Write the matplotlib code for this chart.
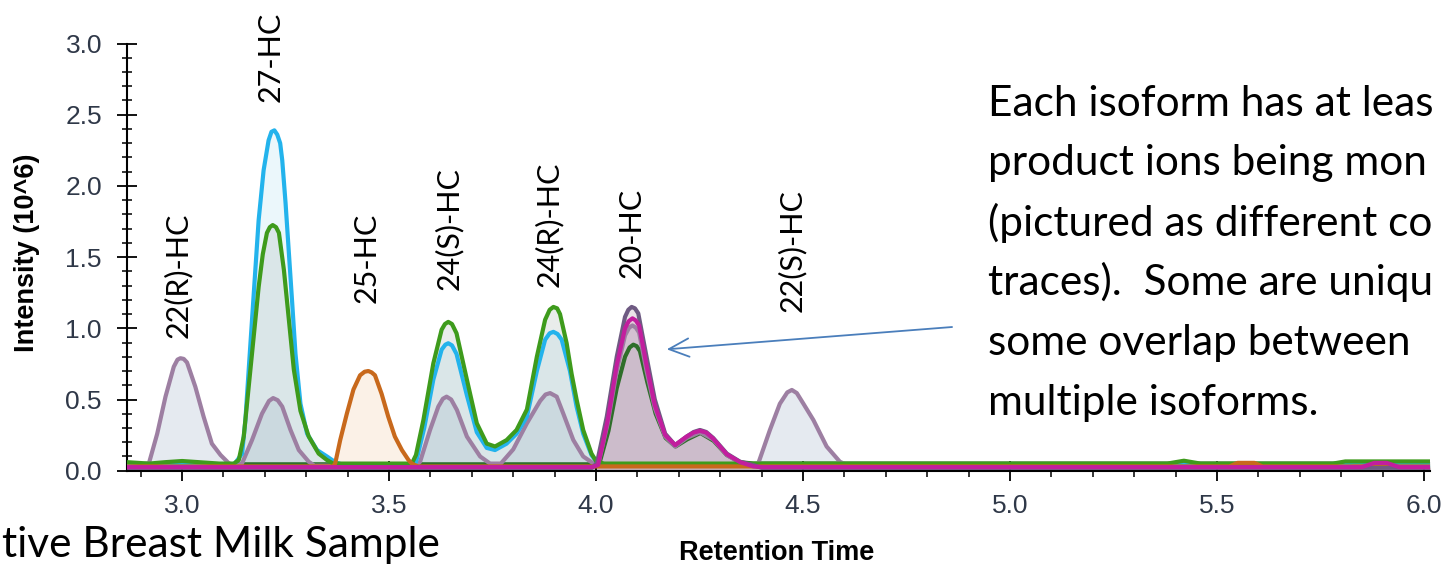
import matplotlib
matplotlib.use("Agg")
import matplotlib.pyplot as plt
from matplotlib.ticker import MultipleLocator

plt.rcParams["font.family"] = ["Liberation Sans", "DejaVu Sans"]

# (retention time [min], intensity [x10^6]) for each monitored transition
mauve_trace = [
    (2.867, 0.035), (2.920, 0.052), (2.940, 0.26), (2.960, 0.52), (2.980, 0.73),
    (2.989, 0.78), (2.996, 0.79), (3.004, 0.785), (3.012, 0.76), (3.032, 0.59),
    (3.052, 0.38), (3.072, 0.19), (3.093, 0.11), (3.113, 0.052), (3.130, 0.035),
    (3.145, 0.052), (3.169, 0.215), (3.193, 0.40), (3.210, 0.49), (3.220, 0.51),
    (3.231, 0.495), (3.242, 0.45), (3.262, 0.286), (3.282, 0.145), (3.306, 0.063),
    (3.320, 0.035), (3.565, 0.035), (3.575, 0.063), (3.599, 0.286), (3.619, 0.45),
    (3.630, 0.505), (3.639, 0.52), (3.650, 0.50), (3.664, 0.426), (3.688, 0.24),
    (3.720, 0.10), (3.744, 0.05), (3.770, 0.05), (3.800, 0.15), (3.833, 0.333),
    (3.865, 0.49), (3.878, 0.535), (3.889, 0.545), (3.905, 0.52), (3.921, 0.40),
    (3.945, 0.216), (3.969, 0.10), (3.993, 0.052), (4.005, 0.04), (4.028, 0.33),
    (4.050, 0.70), (4.070, 0.95), (4.080, 1.005), (4.088, 1.02), (4.096, 1.005),
    (4.104, 0.97), (4.122, 0.70), (4.142, 0.44), (4.167, 0.24), (4.191, 0.17),
    (4.219, 0.23), (4.251, 0.27), (4.283, 0.22), (4.316, 0.11), (4.348, 0.055),
    (4.380, 0.035), (4.392, 0.052), (4.420, 0.286), (4.444, 0.47), (4.462, 0.55),
    (4.473, 0.567), (4.485, 0.545), (4.501, 0.47), (4.525, 0.356), (4.557, 0.17),
    (4.589, 0.063), (4.610, 0.035), (5.390, 0.035), (5.425, 0.05), (5.460, 0.035),
    (6.015, 0.035),
]
cyan_trace = [
    (2.867, 0.04), (3.125, 0.04), (3.145, 0.12), (3.153, 0.356), (3.161, 0.71),
    (3.169, 1.06), (3.177, 1.41), (3.185, 1.76), (3.197, 2.11), (3.209, 2.32),
    (3.216, 2.38), (3.223, 2.39), (3.230, 2.36), (3.237, 2.30), (3.242, 2.18),
    (3.250, 1.88), (3.258, 1.53), (3.266, 1.18), (3.274, 0.82), (3.286, 0.47),
    (3.302, 0.26), (3.326, 0.145), (3.350, 0.10), (3.370, 0.06), (3.390, 0.04),
    (3.555, 0.04), (3.565, 0.06), (3.585, 0.30), (3.607, 0.64), (3.627, 0.85),
    (3.636, 0.885), (3.643, 0.895), (3.652, 0.88), (3.663, 0.82), (3.688, 0.53),
    (3.712, 0.27), (3.736, 0.16), (3.756, 0.145), (3.784, 0.19), (3.808, 0.26),
    (3.833, 0.38), (3.857, 0.70), (3.877, 0.92), (3.888, 0.965), (3.897, 0.975),
    (3.907, 0.96), (3.917, 0.92), (3.937, 0.70), (3.953, 0.45), (3.969, 0.26),
    (3.989, 0.11), (4.005, 0.05), (4.030, 0.04), (5.800, 0.04), (5.830, 0.06),
    (5.860, 0.06), (5.880, 0.04), (6.015, 0.04),
]
green_trace = [
    (2.867, 0.06), (2.920, 0.05), (2.960, 0.06), (3.000, 0.068), (3.040, 0.06),
    (3.090, 0.05), (3.125, 0.05), (3.137, 0.075), (3.149, 0.24), (3.161, 0.59),
    (3.173, 0.94), (3.185, 1.29), (3.195, 1.52), (3.205, 1.67), (3.212, 1.71),
    (3.219, 1.725), (3.227, 1.71), (3.234, 1.67), (3.246, 1.41), (3.258, 1.06),
    (3.270, 0.71), (3.286, 0.42), (3.306, 0.24), (3.330, 0.12), (3.350, 0.075),
    (3.365, 0.05), (3.555, 0.05), (3.565, 0.11), (3.583, 0.356), (3.607, 0.754),
    (3.627, 0.99), (3.635, 1.03), (3.643, 1.045), (3.652, 1.03), (3.663, 0.965),
    (3.688, 0.64), (3.712, 0.333), (3.736, 0.19), (3.756, 0.17), (3.784, 0.215),
    (3.808, 0.286), (3.833, 0.43), (3.857, 0.80), (3.877, 1.06), (3.888, 1.13),
    (3.897, 1.15), (3.906, 1.14), (3.913, 1.10), (3.929, 0.895), (3.941, 0.68),
    (3.953, 0.50), (3.969, 0.286), (3.989, 0.12), (4.001, 0.063), (4.020, 0.05),
    (5.380, 0.05), (5.420, 0.07), (5.460, 0.05), (5.780, 0.05), (5.810, 0.065),
    (6.015, 0.065),
]
orange_trace = [
    (2.867, 0.03), (3.365, 0.03), (3.370, 0.052), (3.382, 0.215), (3.398, 0.40),
    (3.414, 0.57), (3.430, 0.67), (3.441, 0.695), (3.450, 0.70), (3.458, 0.69),
    (3.466, 0.67), (3.482, 0.54), (3.498, 0.38), (3.514, 0.24), (3.531, 0.145),
    (3.547, 0.075), (3.555, 0.05), (3.570, 0.03), (5.530, 0.03), (5.550, 0.055),
    (5.590, 0.055), (5.610, 0.03), (6.015, 0.03),
]
slate_trace = [
    (2.867, 0.02), (3.990, 0.02), (4.002, 0.052), (4.026, 0.38), (4.050, 0.80),
    (4.070, 1.08), (4.078, 1.13), (4.086, 1.15), (4.094, 1.14), (4.102, 1.105),
    (4.122, 0.80), (4.142, 0.50), (4.167, 0.26), (4.191, 0.18), (4.219, 0.24),
    (4.236, 0.272), (4.251, 0.286), (4.266, 0.272), (4.283, 0.23), (4.316, 0.12),
    (4.348, 0.063), (4.380, 0.04), (4.400, 0.02), (6.015, 0.02),
]
magenta_trace = [
    (2.867, 0.025), (3.990, 0.025), (4.005, 0.04), (4.028, 0.35), (4.050, 0.74),
    (4.070, 1.00), (4.079, 1.05), (4.088, 1.07), (4.096, 1.055), (4.104, 1.02),
    (4.122, 0.74), (4.142, 0.46), (4.167, 0.25), (4.191, 0.18), (4.219, 0.24),
    (4.236, 0.268), (4.251, 0.28), (4.266, 0.268), (4.283, 0.225), (4.316, 0.115),
    (4.348, 0.06), (4.380, 0.03), (4.400, 0.025), (5.850, 0.025), (5.880, 0.055),
    (5.910, 0.055), (5.940, 0.025), (6.015, 0.025),
]
darkgreen_trace = [
    (2.867, 0.045), (3.995, 0.045), (4.008, 0.05), (4.030, 0.28), (4.050, 0.58),
    (4.070, 0.80), (4.081, 0.865), (4.090, 0.885), (4.098, 0.875), (4.106, 0.84),
    (4.124, 0.62), (4.144, 0.40), (4.168, 0.23), (4.192, 0.17), (4.220, 0.22),
    (4.252, 0.265), (4.284, 0.21), (4.316, 0.11), (4.348, 0.06), (4.380, 0.05),
    (6.015, 0.05),
]

# isoform names and their retention times
isoforms = ["22(R)-HC", "27-HC", "25-HC", "24(S)-HC", "24(R)-HC", "20-HC", "22(S)-HC"]
isoform_rt = [2.99, 3.215, 3.447, 3.645, 3.886, 4.087, 4.473]
isoform_label_y = [0.93, 2.59, 1.175, 1.27, 1.29, 1.353, 1.115]

# slide text beside the chromatogram (as far as it shows on the slide)
note_lines = [
    "Each isoform has at leas",
    "product ions being mon",
    "(pictured as different co",
    "traces).  Some are uniqu",
    "some overlap between",
    "multiple isoforms.",
]
sample_caption = "tive Breast Milk Sample"

# trace -> (line colour, fill colour, fill alpha, z-order)
styles = [
    (darkgreen_trace, "#2E6E2A", "#7A9070", 0.10, 3),
    (mauve_trace, "#9D7FA2", "#B5C3D5", 0.34, 4),
    (cyan_trace, "#23B3EC", "#A8DCF0", 0.22, 5),
    (green_trace, "#3E9B1C", "#A8B4B0", 0.25, 6),
    (orange_trace, "#C8691C", "#F2D2B0", 0.30, 7),
    (slate_trace, "#6E5A82", "#9A7A90", 0.20, 8),
    (magenta_trace, "#C21E9E", "#C878A8", 0.20, 9),
]

W, H = 1446, 566
fig = plt.figure(figsize=(W / 100, H / 100), dpi=100)
ax_left, ax_right, ax_top, ax_bottom = 127, 1430, 43.5, 470.7
ax = fig.add_axes([ax_left / W, 1 - ax_bottom / H,
                   (ax_right - ax_left) / W, (ax_bottom - ax_top) / H])

for trace, line_c, fill_c, fill_a, z in styles:
    rt = [p[0] for p in trace]
    inten = [p[1] for p in trace]
    ax.fill_between(rt, 0, inten, color=fill_c, alpha=fill_a, lw=0, zorder=1)
for trace, line_c, fill_c, fill_a, z in styles:
    rt = [p[0] for p in trace]
    inten = [p[1] for p in trace]
    ax.plot(rt, inten, color=line_c, lw=3.0, solid_joinstyle="round",
            solid_capstyle="round", zorder=z)

ax.set_xlim(2.867, 6.0145)
ax.set_ylim(0, 3.0)

for side in ("top", "right"):
    ax.spines[side].set_visible(False)
for side in ("left", "bottom"):
    ax.spines[side].set_linewidth(1.5)
    ax.spines[side].set_zorder(2)

ax.xaxis.set_major_locator(MultipleLocator(0.5))
ax.xaxis.set_minor_locator(MultipleLocator(0.1))
ax.yaxis.set_major_locator(MultipleLocator(0.5))
ax.yaxis.set_minor_locator(MultipleLocator(0.1))
ax.xaxis.set_major_formatter(plt.FormatStrFormatter("%.1f"))
ax.yaxis.set_major_formatter(plt.FormatStrFormatter("%.1f"))

tick_col = "#2F3848"
ax.tick_params(axis="y", which="major", direction="inout", length=15, width=1.3,
               labelsize=19, labelcolor=tick_col, pad=10.5)
ax.tick_params(axis="y", which="minor", direction="inout", length=7, width=1.1)
ax.tick_params(axis="x", which="major", direction="inout", length=14, width=1.3,
               labelsize=19, labelcolor=tick_col, pad=9.5)
ax.tick_params(axis="x", which="minor", direction="out", length=4, width=1.1)

ax.set_ylabel("Intensity (10^6)", fontsize=19.5, fontweight="bold", va="center")
ax.yaxis.set_label_coords((27 - ax_left) / (ax_right - ax_left),
                          (ax_bottom - 253) / (ax_bottom - ax_top))
ax.set_xlabel("Retention Time", fontsize=19.5, fontweight="bold", va="center")
ax.xaxis.set_label_coords((777 - ax_left) / (ax_right - ax_left),
                          -(553 - ax_bottom) / (ax_bottom - ax_top))

for name, rt, ly in zip(isoforms, isoform_rt, isoform_label_y):
    ax.text(rt, ly, name, rotation=90, ha="center", va="bottom",
            fontsize=22, family="Lato", color="black", zorder=12)

ax.annotate("", xy=(4.1708, 0.8525), xytext=(4.860, 1.009),
            arrowprops=dict(arrowstyle="->,head_length=0.72,head_width=0.33",
                            color="#4A7EBB", lw=1.3, shrinkA=0, shrinkB=0,
                            mutation_scale=20),
            zorder=12)

for k, line in enumerate(note_lines):
    fig.text(988 / W, 1 - (115.5 + 60 * k) / H, line, ha="left", va="baseline",
             fontsize=30.5, family="Lato", color="black")

fig.text(2 / W, 1 - 557 / H, sample_caption, ha="left", va="baseline",
         fontsize=30.5, family="Lato", color="black")

fig.savefig("out.png", dpi=100)
